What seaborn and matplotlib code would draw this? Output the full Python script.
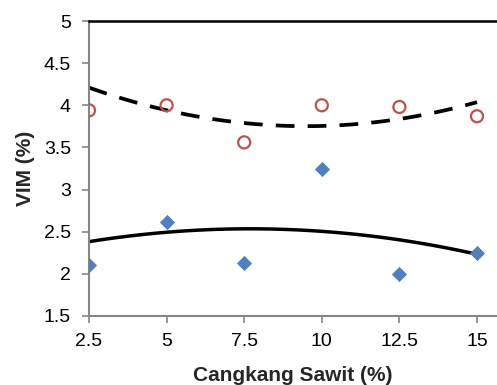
import matplotlib.pyplot as plt
import pandas as pd
import seaborn as sns

# data
cangkang = [2.5, 5, 7.5, 10, 12.5, 15]
vim_circle = [3.94, 4.0, 3.56, 4.0, 3.98, 3.87]
vim_diamond = [2.10, 2.61, 2.13, 3.25, 2.00, 2.25]
# trend lines as drawn in the chart (read at each x)
trend_circle = [4.20, 3.96, 3.79, 3.74, 3.84, 4.04]
trend_diamond = [2.38, 2.50, 2.53, 2.50, 2.41, 2.23]
x_ticks = [2.5, 5, 7.5, 10, 12.5, 15]
y_ticks = [1.5, 2, 2.5, 3, 3.5, 4, 4.5, 5]

df = pd.DataFrame({'x': cangkang, 'circle': vim_circle, 'diamond': vim_diamond,
                   'tc': trend_circle, 'td': trend_diamond})

sns.set_style('white')
plt.rcParams['font.family'] = ['Liberation Sans', 'DejaVu Sans']

fig = plt.figure(figsize=(4.97, 3.85), dpi=100)
ax = fig.add_axes([89 / 497, 69 / 385, 1 - 89 / 497, (316 - 21) / 385])

# polynomial (order 2) trend lines
sns.regplot(data=df, x='x', y='tc', order=2, ci=None, scatter=False, truncate=True,
            line_kws={'color': 'black', 'lw': 2.7, 'dashes': (5, 3.5), 'zorder': 2}, ax=ax)
sns.regplot(data=df, x='x', y='td', order=2, ci=None, scatter=False, truncate=True,
            line_kws={'color': 'black', 'lw': 2.5, 'zorder': 2}, ax=ax)

sns.scatterplot(data=df, x='x', y='diamond', marker='D', s=60, color='#4F81BD',
                edgecolor='#4F81BD', linewidth=0, zorder=3, ax=ax)
sns.scatterplot(data=df, x='x', y='circle', marker='o', s=75, facecolor='none',
                edgecolor='#C0504D', linewidth=1.6, zorder=3, ax=ax)

ax.set_xlim(2.5, 2.5 + (497 - 89) / 31.04)
ax.set_ylim(1.5, 5)
ax.set_xticks(x_ticks)
ax.set_yticks(y_ticks)
ax.set_xticklabels([f'{t:g}' for t in x_ticks])
ax.set_yticklabels([f'{t:g}' for t in y_ticks])

for s in ['left', 'bottom']:
    ax.spines[s].set_color('#868686')
    ax.spines[s].set_linewidth(1.5)
ax.spines['right'].set_visible(False)
ax.spines['top'].set_color('black')
ax.spines['top'].set_linewidth(1.8)
ax.tick_params(axis='both', direction='out', length=5, width=1.2, color='#868686',
               labelsize=14, labelcolor='black', left=True, bottom=True)
ax.tick_params(axis='y', pad=8)
ax.tick_params(axis='x', pad=7)

ax.set_xlabel('Cangkang Sawit (%)', fontsize=15, fontweight='bold', labelpad=12)
ax.set_ylabel('VIM (%)', fontsize=15, fontweight='bold', labelpad=6)

fig.savefig('out.png', dpi=100)
